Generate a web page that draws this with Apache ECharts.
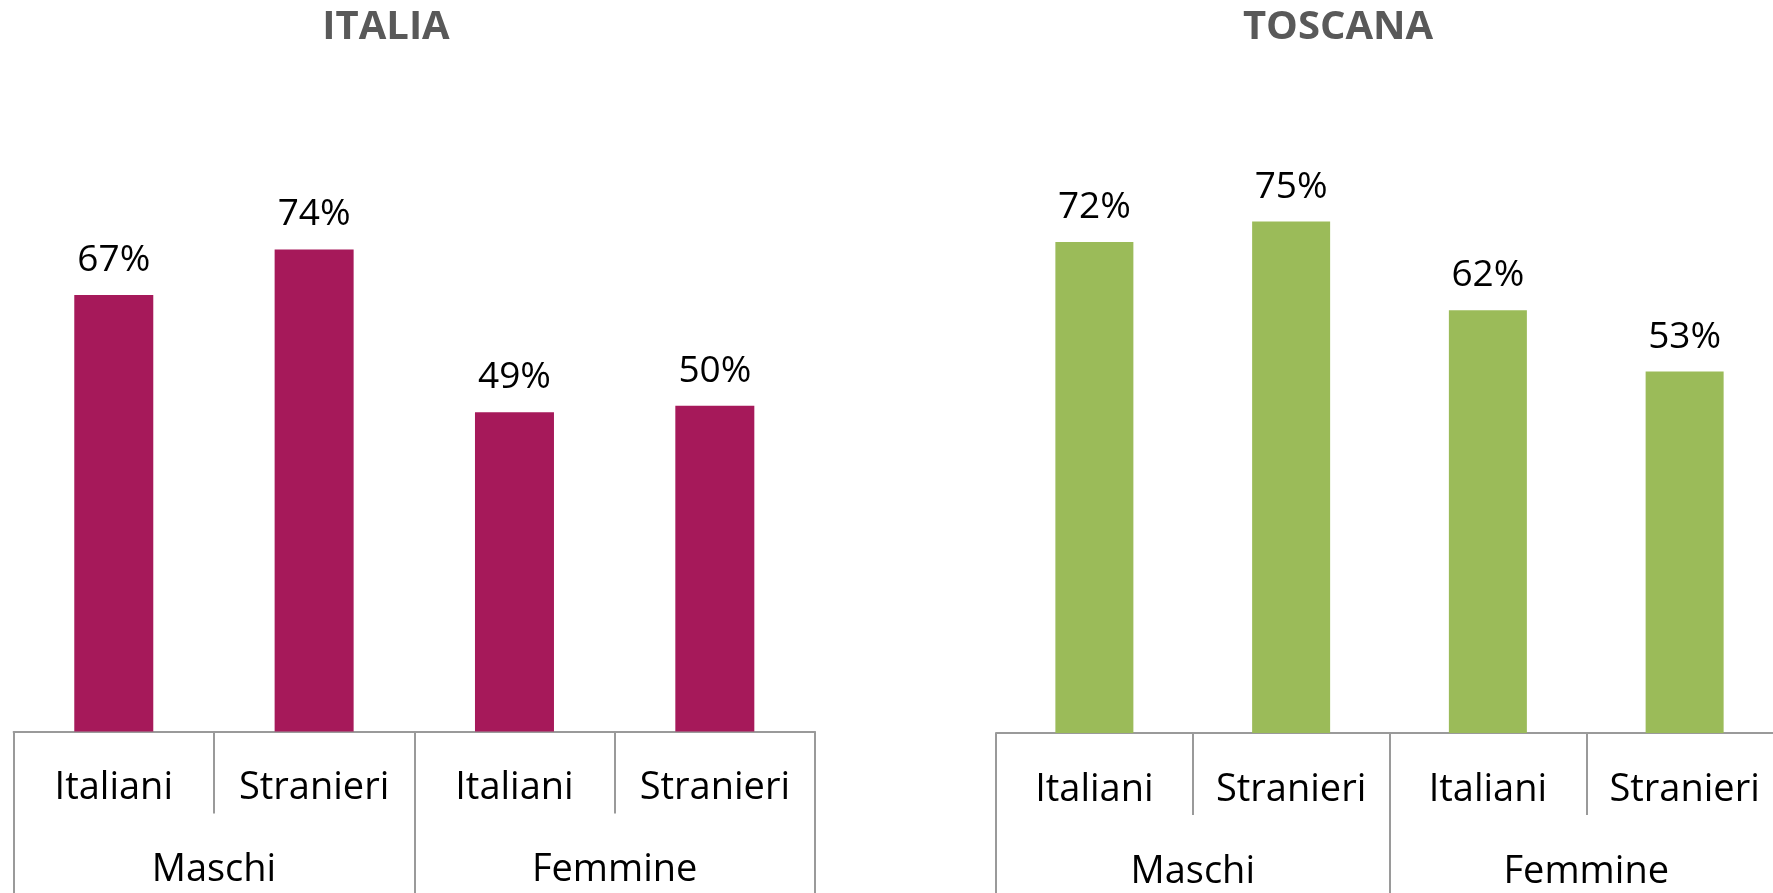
<!DOCTYPE html>
<html>
<head>
<meta charset="utf-8">
<style>
html,body{margin:0;padding:0;background:#fff;}
#chart{width:1773px;height:893px;}
</style>
<script src="https://cdn.jsdelivr.net/npm/echarts@6/dist/echarts.min.js"></script>
</head>
<body>
<div id="chart"></div>
<script>
const subCategories = ['Italiani', 'Stranieri', 'Italiani', 'Stranieri'];
const groupCategories = ['Maschi', 'Femmine'];
const italiaValues = [67, 74, 49, 50];
const toscanaValues = [72, 75, 62, 53];
const titles = ['ITALIA', 'TOSCANA'];

const FONT = '"Open Sans", "Noto Sans", sans-serif';
const LINE = '#9a9a9a';

function subAxis(gridIndex) {
  return {
    type: 'category', gridIndex: gridIndex, data: subCategories, position: 'bottom',
    axisLine: { show: true, lineStyle: { color: LINE, width: 2 } },
    axisTick: { show: true, interval: 0, length: 82, lineStyle: { color: LINE, width: 2 } },
    axisLabel: { interval: 0, margin: 57, verticalAlign: 'middle', color: '#000', fontSize: 38, fontFamily: FONT }
  };
}
function groupAxis(gridIndex) {
  return {
    type: 'category', gridIndex: gridIndex, data: groupCategories, position: 'bottom', offset: 82,
    axisLine: { show: false },
    axisTick: { show: true, interval: 0, length: 90, lineStyle: { color: LINE, width: 2 } },
    axisLabel: { interval: 0, margin: 57, verticalAlign: 'middle', color: '#000', fontSize: 38, fontFamily: FONT }
  };
}
function barSeries(axisIndex, values, color, width) {
  return {
    type: 'bar', xAxisIndex: axisIndex, yAxisIndex: axisIndex === 0 ? 0 : 1,
    data: values, barWidth: width,
    itemStyle: { color: color },
    label: { show: true, position: 'top', distance: 16, formatter: '{c}%', color: '#000', fontSize: 37, fontFamily: FONT }
  };
}

const chart = echarts.init(document.getElementById('chart'), null, { renderer: 'canvas' });
chart.setOption({
  animation: false,
  backgroundColor: '#fff',
  graphic: [
    { type: 'text', x: 386, y: 28, style: { text: titles[0], textAlign: 'center', textVerticalAlign: 'middle', fill: '#595959', font: 'bold 40px "Open Sans", sans-serif' } },
    { type: 'text', x: 1338, y: 28, style: { text: titles[1], textAlign: 'center', textVerticalAlign: 'middle', fill: '#595959', font: 'bold 40px "Open Sans", sans-serif' } }
  ],
  grid: [
    { left: 13.6, top: 80, width: 801.4, height: 651.5, outerBoundsMode: 'none', containLabel: false },
    { left: 996, top: 51, width: 787, height: 682, outerBoundsMode: 'none', containLabel: false }
  ],
  xAxis: [subAxis(0), groupAxis(0), subAxis(1), groupAxis(1)],
  yAxis: [
    { type: 'value', gridIndex: 0, min: 0, max: 100, show: false, splitLine: { show: false } },
    { type: 'value', gridIndex: 1, min: 0, max: 100, show: false, splitLine: { show: false } }
  ],
  series: [
    barSeries(0, italiaValues, '#A6195A', 79),
    barSeries(2, toscanaValues, '#9BBB59', 78)
  ]
});
</script>
</body>
</html>
